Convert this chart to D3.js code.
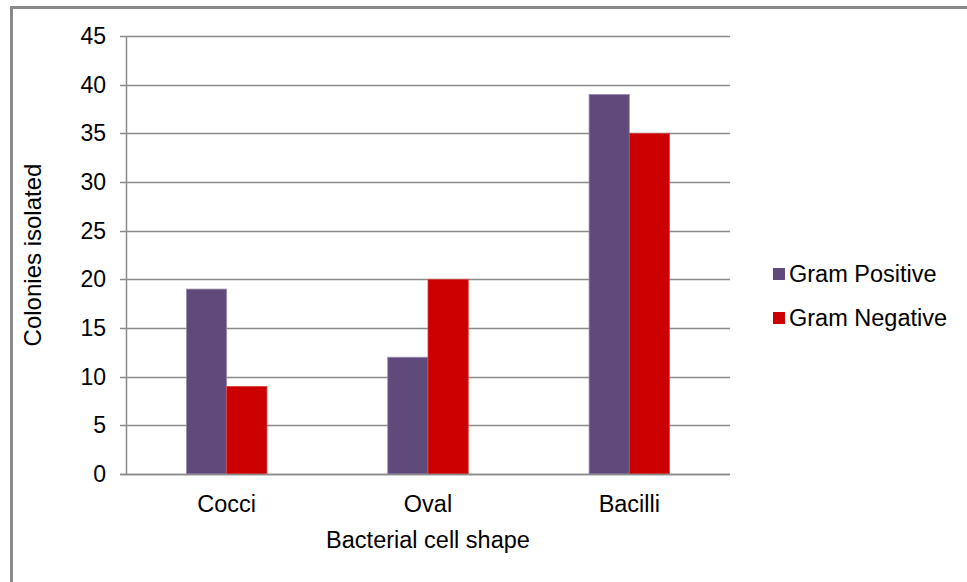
<!DOCTYPE html>
<html>
<head>
<meta charset="utf-8">
<script src="https://cdn.jsdelivr.net/npm/d3@7"></script>
<style>
  body { margin: 0; background: #fff; }
  svg text { font-family: "Liberation Sans", Arial, sans-serif; fill: #000; }
</style>
</head>
<body>
<svg id="chart" width="967" height="582"></svg>
<script>
// chart data
const categories = ["Cocci", "Oval", "Bacilli"];
const seriesNames = ["Gram Positive", "Gram Negative"];
const gramPositive = [19, 12, 39];
const gramNegative = [9, 20, 35];
const yTicks = [0, 5, 10, 15, 20, 25, 30, 35, 40, 45];
const colors = ["#604A7B", "#CC0000"];

const svg = d3.select("#chart");

// outer frame
svg.append("rect")
    .attr("x", 11.5).attr("y", 7.5)
    .attr("width", 970).attr("height", 590)
    .attr("fill", "none")
    .attr("stroke", "#898989")
    .attr("stroke-width", 3);

const margin = { top: 36, left: 126, right: 730, bottom: 474 };

const x0 = d3.scaleBand()
    .domain(categories)
    .range([margin.left, margin.right])
    .paddingInner(0.6)
    .paddingOuter(0.3);

const x1 = d3.scaleBand()
    .domain(seriesNames)
    .range([0, x0.bandwidth()]);

const y = d3.scaleLinear()
    .domain([0, 45])
    .range([margin.bottom, margin.top]);

// gridlines
svg.append("g")
    .selectAll("line")
    .data(yTicks)
    .enter()
    .append("line")
    .attr("x1", margin.left - 6)
    .attr("x2", margin.right)
    .attr("y1", d => Math.round(y(d)) + 0.5)
    .attr("y2", d => Math.round(y(d)) + 0.5)
    .attr("stroke", "#8a8a8a")
    .attr("stroke-width", 1.5);

// y axis line
svg.append("line")
    .attr("x1", margin.left + 0.5).attr("x2", margin.left + 0.5)
    .attr("y1", margin.top).attr("y2", margin.bottom)
    .attr("stroke", "#8a8a8a")
    .attr("stroke-width", 1.5);

// bars
const rows = categories.map((c, i) => ({ cat: c, vals: [gramPositive[i], gramNegative[i]] }));

const groups = svg.append("g")
    .selectAll("g")
    .data(rows)
    .enter()
    .append("g")
    .attr("transform", d => `translate(${x0(d.cat)},0)`);

groups.selectAll("rect")
    .data(d => d.vals.map((v, j) => ({ name: seriesNames[j], value: v, j: j })))
    .enter()
    .append("rect")
    .attr("x", d => x1(d.name))
    .attr("y", d => y(d.value))
    .attr("width", x1.bandwidth())
    .attr("height", d => y(0) - y(d.value))
    .attr("fill", d => colors[d.j])
    .attr("stroke", d => d.j === 0 ? "#9d8fb0" : "#d94444")
    .attr("stroke-width", 0.8);

// redraw baseline over bars
svg.append("line")
    .attr("x1", margin.left - 6).attr("x2", margin.right)
    .attr("y1", Math.round(y(0)) + 0.5).attr("y2", Math.round(y(0)) + 0.5)
    .attr("stroke", "#8a8a8a")
    .attr("stroke-width", 1.5);

// y tick labels
svg.append("g")
    .selectAll("text")
    .data(yTicks)
    .enter()
    .append("text")
    .attr("x", 106)
    .attr("y", d => y(d))
    .attr("dy", "0.35em")
    .attr("text-anchor", "end")
    .style("font-size", "23px")
    .text(d => d);

// category labels
svg.append("g")
    .selectAll("text")
    .data(categories)
    .enter()
    .append("text")
    .attr("x", d => x0(d) + x0.bandwidth() / 2)
    .attr("y", 512)
    .attr("text-anchor", "middle")
    .style("font-size", "23.5px")
    .text(d => d);

// axis titles
svg.append("text")
    .attr("x", (margin.left + margin.right) / 2)
    .attr("y", 548)
    .attr("text-anchor", "middle")
    .style("font-size", "23.5px")
    .text("Bacterial cell shape");

svg.append("text")
    .attr("transform", "translate(41," + ((margin.top + margin.bottom) / 2) + ") rotate(-90)")
    .attr("text-anchor", "middle")
    .style("font-size", "24px")
    .text("Colonies isolated");

// legend
const legend = svg.append("g")
    .selectAll("g")
    .data(seriesNames)
    .enter()
    .append("g")
    .attr("transform", (d, i) => `translate(773,${274 + i * 44})`);

legend.append("rect")
    .attr("x", 0).attr("y", -6)
    .attr("width", 12).attr("height", 12)
    .attr("fill", (d, i) => colors[i]);

legend.append("text")
    .attr("x", 16)
    .attr("y", 0)
    .attr("dy", "0.35em")
    .style("font-size", "23.5px")
    .text(d => d);
</script>
</body>
</html>
